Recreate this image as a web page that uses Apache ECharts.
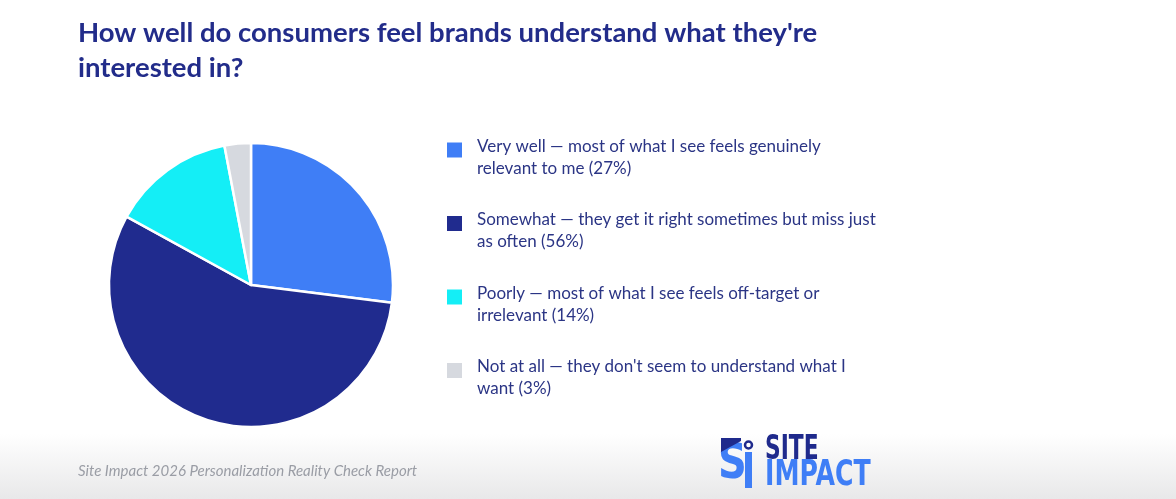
<!DOCTYPE html>
<html>
<head>
<meta charset="utf-8">
<script src="https://cdn.jsdelivr.net/npm/echarts@6/dist/echarts.min.js"></script>
<style>
  html, body { margin: 0; padding: 0; background: #fff; }
  #chart { width: 1176px; height: 499px; }
</style>
</head>
<body>
<div id="chart"></div>
<script>
// answer categories (legend text, already wrapped to two lines)
const categories = [
  'Very well \u2014 most of what I see feels genuinely\nrelevant to me (27%)',
  'Somewhat \u2014 they get it right sometimes but miss just\nas often (56%)',
  'Poorly \u2014 most of what I see feels off-target or\nirrelevant (14%)',
  'Not at all \u2014 they don\'t seem to understand what I\nwant (3%)'
];
const shares = [27, 56, 14, 3];
const colors = ['#3f7ef6', '#202b8e', '#14eef6', '#d6d9df'];

const titleText = 'How well do consumers feel brands understand what they\'re\ninterested in?';
const sourceText = 'Site Impact 2026 Personalization Reality Check Report';

const chart = echarts.init(document.getElementById('chart'));

chart.setOption({
  animation: false,
  backgroundColor: '#fff',
  title: {
    text: titleText,
    left: 73,
    top: 11,
    textStyle: {
      fontFamily: 'Lato',
      fontWeight: 'bold',
      fontSize: 27.5,
      lineHeight: 35,
      color: '#222c8a'
    }
  },
  legend: {
    orient: 'vertical',
    left: 440,
    top: 118,
    icon: 'rect',
    itemWidth: 17,
    itemHeight: 17,
    itemGap: 19.5,
    selectedMode: false,
    data: categories,
    // empty spacer line on top keeps the swatch level with the first line
    formatter: name => '{s| }\n' + name.split('\n').map(l => '{t|' + l + '}').join('\n'),
    textStyle: {
      fontFamily: 'Lato',
      fontSize: 17,
      color: '#2b3585',
      padding: [0, 0, 0, 9],
      rich: {
        s: { fontSize: 10, lineHeight: 15 },
        t: { fontFamily: 'Lato', fontSize: 17, lineHeight: 22, color: '#2b3585' }
      }
    }
  },
  series: [{
    type: 'pie',
    center: [251, 285],
    radius: 142,
    startAngle: 90,
    clockwise: true,
    label: { show: false },
    labelLine: { show: false },
    itemStyle: { borderColor: '#fff', borderWidth: 2.5 },
    emphasis: { disabled: true },
    data: categories.map((name, i) => ({
      name: name,
      value: shares[i],
      itemStyle: { color: colors[i] }
    }))
  }],
  graphic: [
    {
      type: 'rect',
      z: -10,
      shape: { x: 0, y: 434, width: 1176, height: 65 },
      style: {
        fill: new echarts.graphic.LinearGradient(0, 0, 0, 1, [
          { offset: 0, color: '#ffffff' },
          { offset: 1, color: '#e8e8e9' }
        ])
      }
    },
    {
      type: 'text',
      left: 78,
      top: 464,
      style: {
        text: sourceText,
        font: 'italic 15px Lato',
        fill: '#9a9da5'
      }
    },
    // logo mark
    {
      type: 'group',
      left: 718,
      top: 434,
      children: [
        {
          type: 'text',
          x: -3,
          y: 2,
          scaleX: 0.8,
          style: {
            text: 'S',
            font: '900 50px "DejaVu Sans"',
            fill: '#3f7ef6'
          }
        },
        {
          type: 'polygon',
          shape: { points: [[0, 0], [20, 0], [20, 3], [0, 14]] },
          style: { fill: '#1f2a8c' }
        },
        {
          type: 'rect',
          shape: { x: 24, y: 14, width: 7, height: 36 },
          style: { fill: '#3f7ef6' }
        },
        {
          type: 'circle',
          shape: { cx: 27.5, cy: 7, r: 3.5 },
          style: { fill: '#fff', stroke: '#1f2a8c', lineWidth: 2.5 }
        },
        {
          type: 'text',
          x: 44,
          y: -4,
          scaleX: 0.66,
          style: {
            text: 'SITE',
            font: 'bold 33px "DejaVu Sans"',
            fill: '#1f2a8c'
          }
        },
        {
          type: 'text',
          x: 44,
          y: 20,
          scaleX: 0.72,
          style: {
            text: 'IMPACT',
            font: 'bold 35px "DejaVu Sans"',
            fill: '#3f7ef6'
          }
        }
      ]
    }
  ]
});
</script>
</body>
</html>
